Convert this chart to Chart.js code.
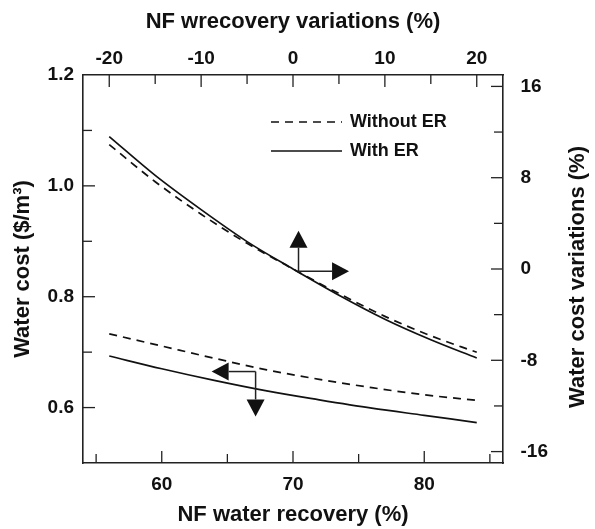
<!DOCTYPE html>
<html><head><meta charset="utf-8">
<script src="https://cdn.jsdelivr.net/npm/chart.js@4.4.1/dist/chart.umd.min.js"></script>
<style>html,body{margin:0;padding:0;background:#fff}canvas{display:block}</style>
</head><body>
<canvas id="c" width="595" height="529"></canvas>
<script>
// ---- data ----
const seriesNames = ['Without ER', 'With ER'];
// bottom / left axes : NF water recovery (%) vs water cost ($/m3)
const recovery = [56, 60, 64, 68, 72, 76, 80, 84];
const costWithoutER = [0.733, 0.711, 0.689, 0.668, 0.651, 0.636, 0.623, 0.613];
const costWithER    = [0.693, 0.670, 0.649, 0.630, 0.614, 0.599, 0.586, 0.573];
// top / right axes : recovery variation (%) vs water cost variation (%)
const recoveryVariation = [-20, -15, -10, -5, 0, 5, 10, 15, 20];
const costVarWithoutER = [10.9, 7.65, 4.8, 2.25, 0, -2.15, -4.15, -5.85, -7.3];
const costVarWithER    = [11.6, 8.2, 5.2, 2.4, 0, -2.3, -4.4, -6.2, -7.8];
// tick labels
const bottomTickLabels = [60, 70, 80];
const topTickLabels = [-20, -10, 0, 10, 20];
const leftTickLabels = [0.6, 0.8, 1.0, 1.2];
const rightTickLabels = [-16, -8, 0, 8, 16];
// axis titles
const bottomTitle = 'NF water recovery (%)';
const topTitle = 'NF wrecovery variations (%)';
const leftTitle = 'Water cost ($/m\u00B3)';
const rightTitle = 'Water cost variations (%)';
// annotation arrows (data coordinates)
const arrowNotes = [
  {xAxis: 'x2', yAxis: 'y2', origin: [0.6, -0.2], tips: [[0.6, 3.35], [6.1, -0.2]]},
  {xAxis: 'x',  yAxis: 'y',  origin: [67.15, 0.665], tips: [[63.8, 0.665], [67.15, 0.584]]}
];

// ---- styling ----
const FONT = '"Liberation Sans", Arial, Helvetica, sans-serif';
const INK = '#111';
const DASH = [8, 6];
const has = (arr, v) => arr.some(t => Math.abs(t - v) < 1e-6);
const pts = (xs, ys) => xs.map((x, i) => ({x: x, y: ys[i]}));

const lineBase = {borderColor: INK, borderWidth: 1.7, pointRadius: 0, fill: false, cubicInterpolationMode: 'monotone'};

const tickMarks = {
  id: 'tickMarks',
  afterDraw(chart) {
    const ctx = chart.ctx, a = chart.chartArea;
    ctx.save();
    ctx.strokeStyle = '#222';
    ctx.lineWidth = 1.3;
    const defs = {x: bottomTickLabels, x2: topTickLabels, y: leftTickLabels, y2: rightTickLabels};
    Object.keys(defs).forEach(id => {
      const s = chart.scales[id];
      s.ticks.forEach(t => {
        const p = s.getPixelForValue(t.value);
        const len = has(defs[id], t.value) ? 12 : 9;
        ctx.beginPath();
        if (id === 'x') { if (p < a.left + 2 || p > a.right - 2) return; ctx.moveTo(p, a.bottom); ctx.lineTo(p, a.bottom - len); }
        if (id === 'x2') { if (p < a.left + 2 || p > a.right - 2) return; ctx.moveTo(p, a.top); ctx.lineTo(p, a.top + len); }
        if (id === 'y') { if (p < a.top + 2 || p > a.bottom - 2) return; ctx.moveTo(a.left, p); ctx.lineTo(a.left + len, p); }
        if (id === 'y2') { if (p < a.top + 2 || p > a.bottom - 2) return; ctx.moveTo(a.right, p); ctx.lineTo(a.right - len, p); }
        ctx.stroke();
      });
    });
    // right axis title, reading bottom-to-top
    ctx.fillStyle = INK;
    ctx.font = 'bold 22px ' + FONT;
    ctx.textAlign = 'center';
    ctx.textBaseline = 'middle';
    ctx.translate(578, (a.top + a.bottom) / 2 + 8);
    ctx.rotate(-Math.PI / 2);
    ctx.fillText(rightTitle, 0, 0);
    ctx.restore();
  }
};

const arrowsAndLegend = {
  id: 'arrowsAndLegend',
  afterDatasetsDraw(chart) {
    const ctx = chart.ctx, a = chart.chartArea;
    ctx.save();
    ctx.strokeStyle = '#222';
    ctx.fillStyle = INK;
    ctx.lineWidth = 1.5;
    const HL = 17, HW = 9;
    arrowNotes.forEach(n => {
      const sx = chart.scales[n.xAxis], sy = chart.scales[n.yAxis];
      const ox = sx.getPixelForValue(n.origin[0]), oy = sy.getPixelForValue(n.origin[1]);
      n.tips.forEach(tp => {
        const tx = sx.getPixelForValue(tp[0]), ty = sy.getPixelForValue(tp[1]);
        const dx = tx - ox, dy = ty - oy, L = Math.hypot(dx, dy);
        const ux = dx / L, uy = dy / L;
        const bx = tx - ux * HL, by = ty - uy * HL;
        ctx.beginPath(); ctx.moveTo(ox, oy); ctx.lineTo(bx, by); ctx.stroke();
        ctx.beginPath();
        ctx.moveTo(tx, ty);
        ctx.lineTo(bx - uy * HW, by + ux * HW);
        ctx.lineTo(bx + uy * HW, by - ux * HW);
        ctx.closePath(); ctx.fill();
      });
    });
    // legend
    const lx = a.left + 188, ly = a.top + 47, gap = 29;
    ctx.font = 'bold 18px ' + FONT;
    ctx.textAlign = 'left';
    ctx.textBaseline = 'middle';
    seriesNames.forEach((name, i) => {
      const ds = chart.data.datasets[i];
      const y = ly + i * gap;
      ctx.lineWidth = ds.borderWidth;
      ctx.strokeStyle = ds.borderColor;
      ctx.setLineDash(ds.borderDash || []);
      ctx.beginPath(); ctx.moveTo(lx, y); ctx.lineTo(lx + 71, y); ctx.stroke();
      ctx.setLineDash([]);
      ctx.fillStyle = INK;
      ctx.fillText(name, lx + 79, y);
    });
    ctx.restore();
  }
};

const tickFont = {family: FONT, size: 19, weight: 'bold'};
const titleFont = {family: FONT, size: 22, weight: 'bold'};
const gridOff = {display: true, drawOnChartArea: false, drawTicks: false};
const border = {display: true, color: '#222', width: 1.6};

new Chart(document.getElementById('c'), {
  type: 'line',
  data: {
    datasets: [
      Object.assign({label: seriesNames[0], data: pts(recoveryVariation, costVarWithoutER), xAxisID: 'x2', yAxisID: 'y2', borderDash: DASH}, lineBase),
      Object.assign({label: seriesNames[1], data: pts(recoveryVariation, costVarWithER), xAxisID: 'x2', yAxisID: 'y2'}, lineBase),
      Object.assign({label: seriesNames[0], data: pts(recovery, costWithoutER), xAxisID: 'x', yAxisID: 'y', borderDash: DASH}, lineBase),
      Object.assign({label: seriesNames[1], data: pts(recovery, costWithER), xAxisID: 'x', yAxisID: 'y'}, lineBase)
    ]
  },
  options: {
    responsive: false,
    animation: false,
    devicePixelRatio: 1,
    layout: {padding: 0},
    plugins: {legend: {display: false}, tooltip: {enabled: false}},
    scales: {
      x: {
        type: 'linear', position: 'bottom', min: 54, max: 86,
        grid: gridOff, border: border,
        ticks: {stepSize: 5, includeBounds: false, autoSkip: false, maxRotation: 0, padding: 10, color: INK, font: tickFont,
          callback: v => has(bottomTickLabels, v) ? String(v) : ''},
        title: {display: true, text: bottomTitle, color: INK, font: titleFont, padding: {top: 0, bottom: 0.5}},
        afterFit: s => { s.height = 66; }
      },
      x2: {
        type: 'linear', position: 'top', min: -22.857, max: 22.857,
        grid: gridOff, border: border,
        ticks: {stepSize: 5, includeBounds: false, autoSkip: false, maxRotation: 0, padding: 5, color: INK, font: tickFont,
          callback: v => has(topTickLabels, v) ? String(v) : ''},
        title: {display: true, text: topTitle, color: INK, font: titleFont, padding: {top: 8.5, bottom: 0}},
        afterFit: s => { s.height = 75; }
      },
      y: {
        type: 'linear', position: 'left', min: 0.5, max: 1.2,
        grid: gridOff, border: border,
        ticks: {stepSize: 0.1, includeBounds: false, autoSkip: false, padding: 9, color: INK, font: tickFont,
          callback: v => has(leftTickLabels, v) ? Number(v).toFixed(1) : ''},
        title: {display: true, text: leftTitle, color: INK, font: titleFont, padding: {top: 10, bottom: 0}},
        afterFit: s => { s.width = 83; }
      },
      y2: {
        type: 'linear', position: 'right', min: -17, max: 17,
        grid: gridOff, border: border,
        ticks: {stepSize: 4, includeBounds: false, autoSkip: false, padding: 17.5, color: INK, font: tickFont,
          callback: v => has(rightTickLabels, v) ? String(v) : ''},
        title: {display: false, text: rightTitle},
        afterFit: s => { s.width = 92; }
      }
    }
  },
  plugins: [tickMarks, arrowsAndLegend]
});
</script>
</body></html>
